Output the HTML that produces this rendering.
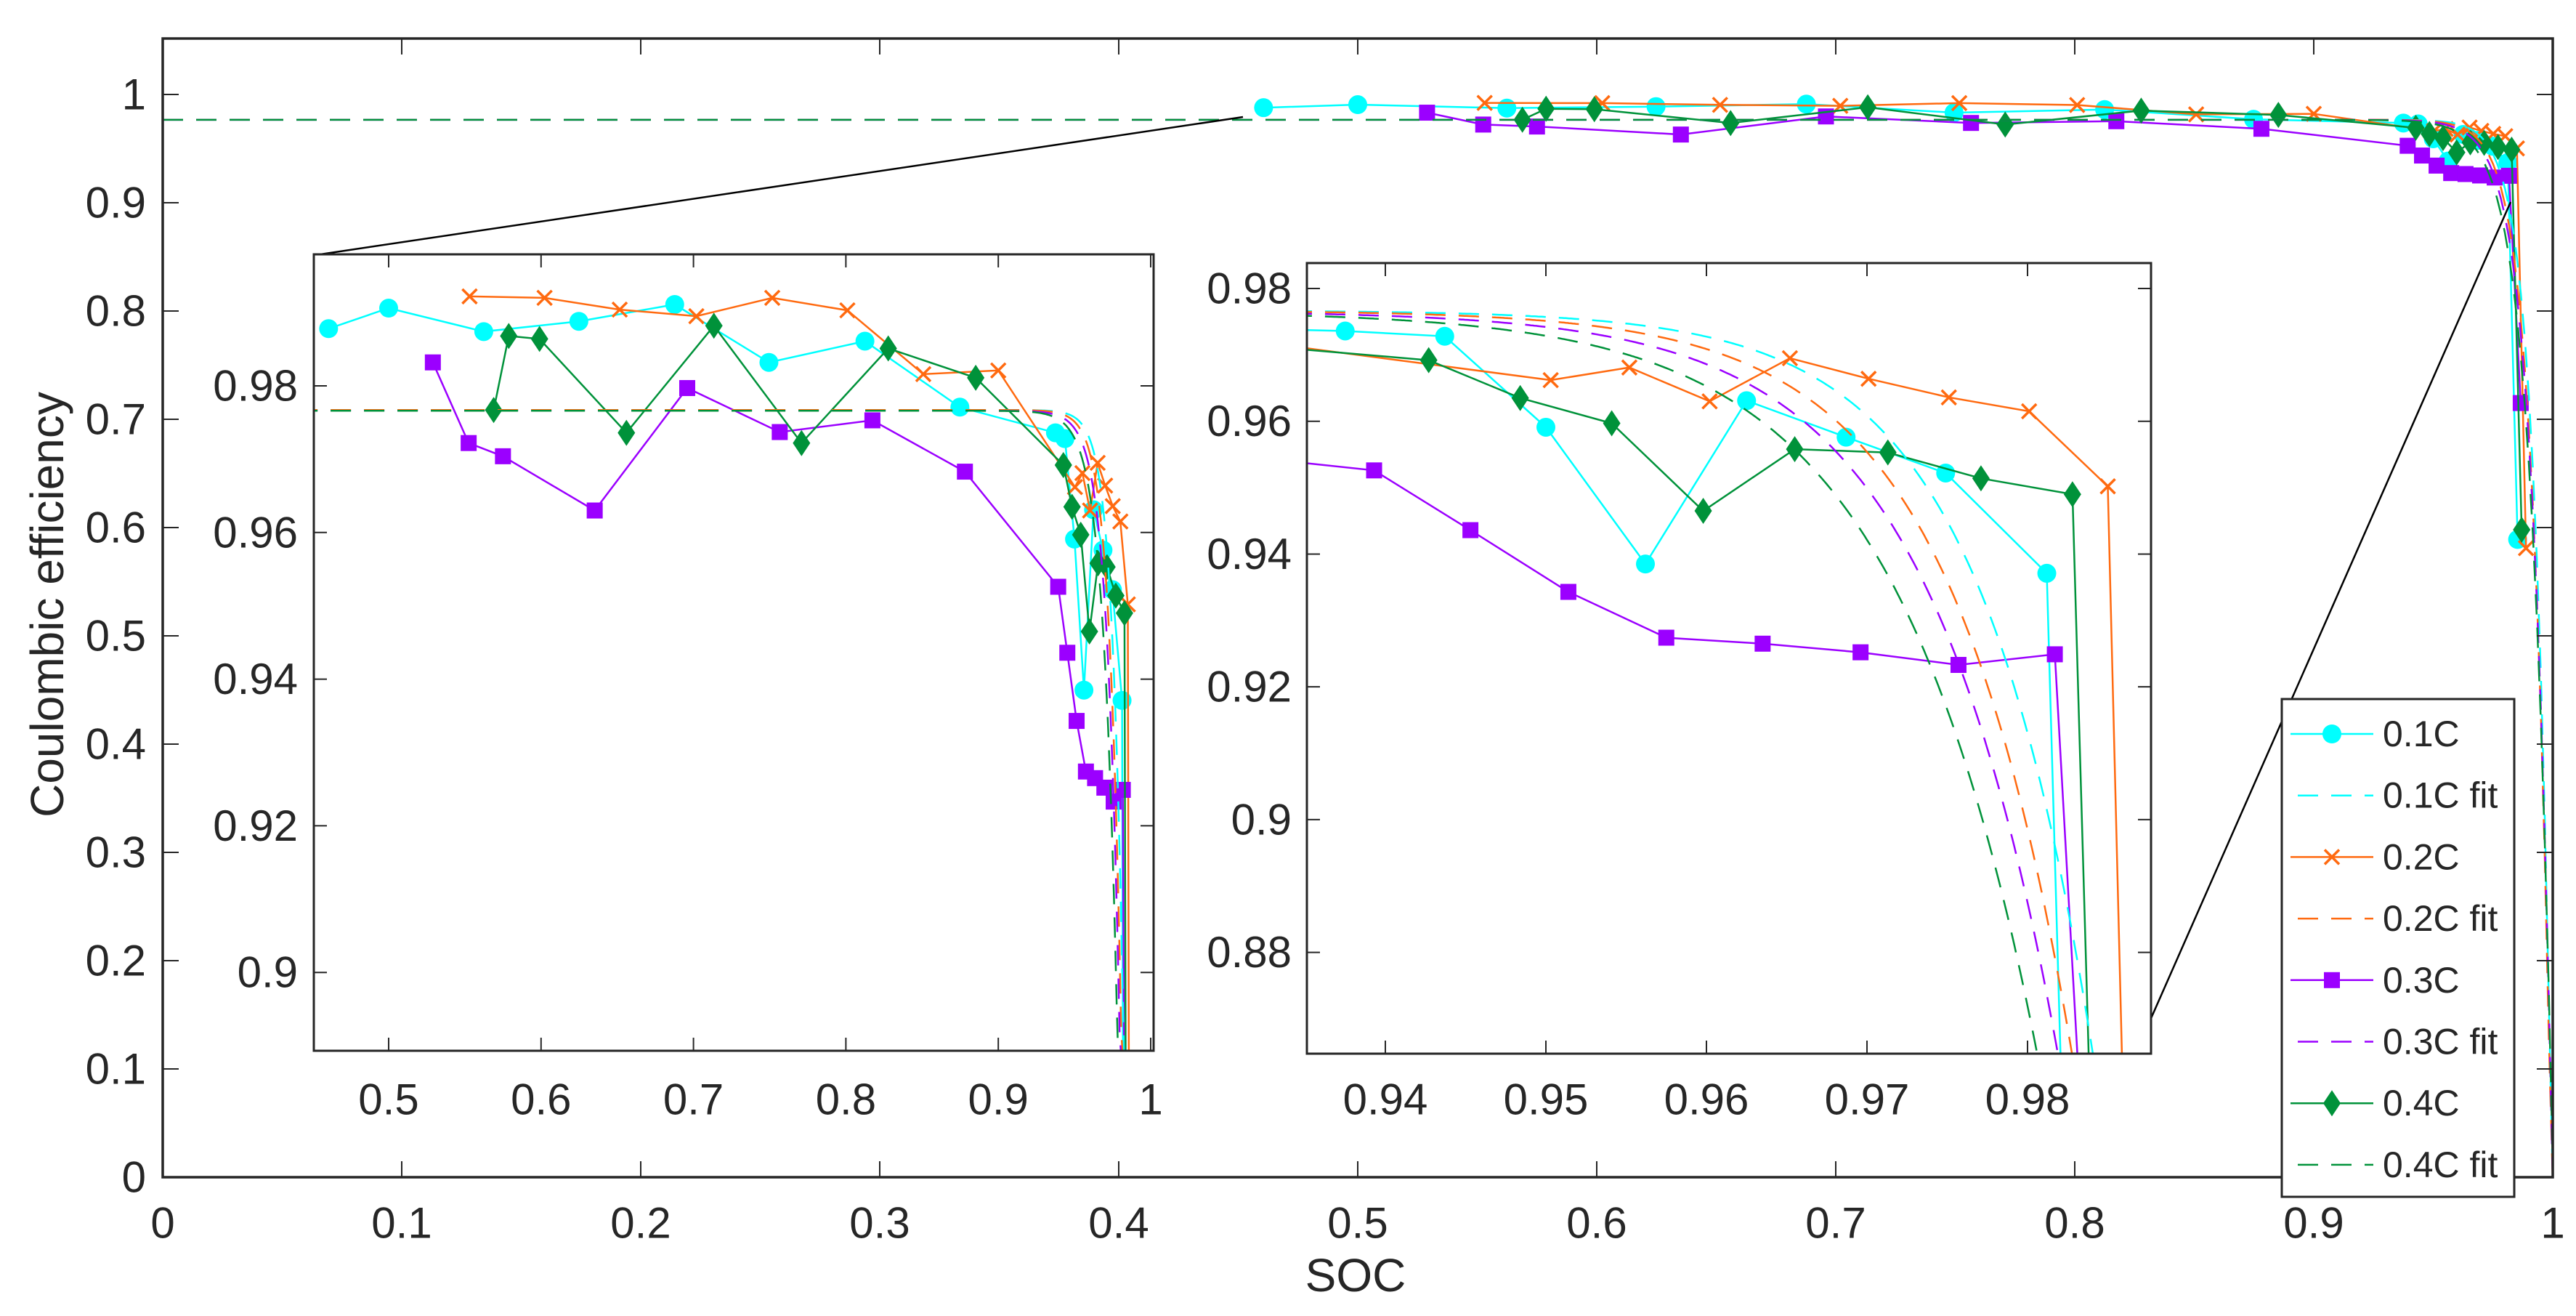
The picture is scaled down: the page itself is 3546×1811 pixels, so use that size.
<!DOCTYPE html>
<html><head><meta charset="utf-8">
<style>
html,body{margin:0;padding:0;background:#fff;overflow:hidden;width:3546px;height:1811px;}
svg{display:block;font-family:"Liberation Sans",Arial,sans-serif;}
</style></head>
<body>
<svg id="chart" xmlns="http://www.w3.org/2000/svg" width="3546" height="1811" viewBox="0 0 3546 1811">
<rect x="0" y="0" width="3546" height="1811" fill="#fff"/>
</svg>
<script>
// ---- data ----
const seriesNames = ["0.1C","0.2C","0.3C","0.4C"];
const colors = ["#00FFFF","#FF6A10","#9B00FF","#00923A"];
const socC1 = [0.4606,0.5,0.5624,0.6248,0.6877,0.7495,0.8125,0.8748,0.9375,0.9437,0.9500,0.9562,0.9625,0.9687,0.9749,0.9812,0.9853];
const ceC1  = [0.9878,0.9906,0.9874,0.9888,0.9911,0.9832,0.9861,0.9771,0.9736,0.9728,0.9591,0.9385,0.9631,0.9576,0.9522,0.9371,0.589];
const socC2 = [0.5531,0.6023,0.6516,0.7019,0.7517,0.8010,0.8508,0.9000,0.9503,0.9552,0.9602,0.9652,0.9701,0.9751,0.9801,0.9850,0.9888];
const ceC2  = [0.9922,0.9920,0.9904,0.9895,0.9920,0.9903,0.9816,0.9821,0.9662,0.9681,0.9630,0.9695,0.9664,0.9636,0.9615,0.9502,0.581];
const socC3 = [0.5290,0.5525,0.5750,0.6352,0.6959,0.7566,0.8174,0.8781,0.9393,0.9453,0.9514,0.9575,0.9635,0.9696,0.9757,0.9817,0.9866];
const ceC3  = [0.9832,0.9722,0.9704,0.9630,0.9797,0.9737,0.9753,0.9683,0.9526,0.9436,0.9343,0.9274,0.9265,0.9252,0.9233,0.9249,0.715];
const socC4 = [0.5689,0.5788,0.5990,0.6560,0.7134,0.7709,0.8278,0.8852,0.9427,0.9484,0.9541,0.9598,0.9655,0.9713,0.9771,0.9828,0.9870];
const ceC4  = [0.9767,0.9868,0.9864,0.9736,0.9882,0.9722,0.9851,0.9811,0.9692,0.9635,0.9597,0.9465,0.9558,0.9553,0.9514,0.9490,0.598];
// fit parameters: plateau, SOC where fit reaches 0.8647, decay width
const fitPlateau = [0.9767,0.9767,0.9766,0.9766];
const fitEndSoc  = [0.98407,0.98277,0.98190,0.98061];
const fitWidth   = [0.0072,0.0077,0.0083,0.0090];
const mainXTicks = ["0","0.1","0.2","0.3","0.4","0.5","0.6","0.7","0.8","0.9","1"];
const mainYTicks = ["0","0.1","0.2","0.3","0.4","0.5","0.6","0.7","0.8","0.9","1"];
const in1XTicks = ["0.5","0.6","0.7","0.8","0.9","1"];
const in1YTicks = ["0.9","0.92","0.94","0.96","0.98"];
const in2XTicks = ["0.94","0.95","0.96","0.97","0.98"];
const in2YTicks = ["0.88","0.9","0.92","0.94","0.96","0.98"];

const socs=[socC1,socC2,socC3,socC4], ces=[ceC1,ceC2,ceC3,ceC4];
const NS="http://www.w3.org/2000/svg";
const svg=document.getElementById('chart');
function el(tag,attrs,parent){const e=document.createElementNS(NS,tag);for(const k in attrs)e.setAttribute(k,attrs[k]);(parent||svg).appendChild(e);return e;}
function fitVal(i,s){return fitPlateau[i]-0.112*Math.exp((s-fitEndSoc[i])/fitWidth[i]);}

const axes=[
 {id:'main',x0:224,x1:3514,y0:53,y1:1620,xs:s=>224+3290*s,ys:c=>1620-1490*c,xt:mainXTicks,yt:mainYTicks,lw:3.5,tick:22,fs:60,xly:1683,ylx:201,sMin:0,sMax:1},
 {id:'inset1',x0:432,x1:1588,y0:350,y1:1446,xs:s=>535+(s-0.5)*2098,ys:c=>531-(c-0.98)*10090,xt:in1XTicks,yt:in1YTicks,lw:3,tick:18,fs:60,xly:1513,ylx:410,sMin:0.44,sMax:1.01},
 {id:'inset2',x0:1799,x1:2961,y0:362,y1:1450,xs:s=>1907+(s-0.94)*22100,ys:c=>397-(c-0.98)*9136,xt:in2XTicks,yt:in2YTicks,lw:3,tick:18,fs:60,xly:1513,ylx:1778,sMin:0.93,sMax:0.995}
];

function marker(i,x,y,g){
 const c=colors[i];let m;
 if(i===0){m=el('circle',{cx:x,cy:y,r:13,fill:c},g);}
 else if(i===1){m=el('path',{d:`M${x-10},${y-10}L${x+10},${y+10}M${x-10},${y+10}L${x+10},${y-10}`,stroke:c,'stroke-width':3.5,fill:'none'},g);}
 else if(i===2){m=el('rect',{x:x-11,y:y-11,width:22,height:22,fill:c},g);}
 else {m=el('path',{d:`M${x},${y-18}L${x+12},${y}L${x},${y+18}L${x-12},${y}Z`,fill:c},g);}
 return m;
}

axes.forEach(a=>{
 const g=el('g',{});
 
 
 el('rect',{x:a.x0,y:a.y0,width:a.x1-a.x0,height:a.y1-a.y0,fill:'#fff'},g);
 const cp=el('clipPath',{id:'clip-'+a.id},g);
 el('rect',{x:a.x0,y:a.y0,width:a.x1-a.x0,height:a.y1-a.y0},cp);
 const plot=el('g',{'clip-path':'url(#clip-'+a.id+')'},g);
 
 
 const lim=a.y1+20;
 for(let i=0;i<4;i++){
  const sg=el('g',{},plot);
  
  
  const P=socs[i].map((s,k)=>[a.xs(s),a.ys(ces[i][k])]);
  const out=[];
  for(let k=0;k<P.length;k++){
   if(P[k][1]<=lim){out.push(P[k]);}
   else{
    if(k>0&&P[k-1][1]<=lim){const t=(lim-P[k-1][1])/(P[k][1]-P[k-1][1]);out.push([P[k-1][0]+t*(P[k][0]-P[k-1][0]),lim]);}
    break;
   }
  }
  el('polyline',{points:out.map(p=>p[0].toFixed(1)+','+p[1].toFixed(1)).join(' '),fill:'none',stroke:colors[i],'stroke-width':2.5},sg);
  P.forEach(p=>{if(p[1]>lim)return;
   const m=marker(i,p[0],p[1],sg);
   
   });
 }
 for(let i=0;i<4;i++){
  const N=600;const p=[];
  for(let k=0;k<=N;k++){const s=a.sMin+(a.sMax-a.sMin)*k/N;let y=a.ys(fitVal(i,s));if(y>a.y1+5)y=a.y1+5;p.push(a.xs(s).toFixed(1)+','+y.toFixed(1));}
  const f=el('polyline',{points:p.join(' '),fill:'none',stroke:colors[i],'stroke-width':2.5,'stroke-dasharray':'28 18'},plot);
  
  
 }
 a.xt.forEach(t=>{const x=a.xs(parseFloat(t));
  el('line',{x1:x,x2:x,y1:a.y1,y2:a.y1-a.tick,stroke:'#262626','stroke-width':2},g);
  el('line',{x1:x,x2:x,y1:a.y0,y2:a.y0+a.tick,stroke:'#262626','stroke-width':2},g);
  const tx=el('text',{x:x,y:a.xly,'font-size':a.fs,'text-anchor':'middle','dominant-baseline':'central',fill:'#262626'},g);
  tx.textContent=t;
  
  
 });
 a.yt.forEach(t=>{const y=a.ys(parseFloat(t));
  el('line',{x1:a.x0,x2:a.x0+a.tick,y1:y,y2:y,stroke:'#262626','stroke-width':2},g);
  el('line',{x1:a.x1,x2:a.x1-a.tick,y1:y,y2:y,stroke:'#262626','stroke-width':2},g);
  const tx=el('text',{x:a.ylx,y:y,'font-size':a.fs,'text-anchor':'end','dominant-baseline':'central',fill:'#262626'},g);
  tx.textContent=t;
  
  
 });
 el('rect',{x:a.x0,y:a.y0,width:a.x1-a.x0,height:a.y1-a.y0,fill:'none',stroke:'#262626','stroke-width':a.lw},g);
 if(a.id==='main'){
  const c1=el('line',{x1:441,y1:350,x2:1711,y2:161,stroke:'#000','stroke-width':2.5},svg);
  
  
  const c2=el('line',{x1:2955,y1:1415,x2:3456,y2:278,stroke:'#000','stroke-width':2.5},svg);
  
  
 }
});

const xt=el('text',{x:1866,y:1755,'font-size':64,'text-anchor':'middle','dominant-baseline':'central',fill:'#262626'});
xt.textContent='SOC';


const yt=el('text',{x:0,y:0,'font-size':64,'text-anchor':'middle','dominant-baseline':'central',fill:'#262626',transform:'translate(65,832) rotate(-90)'});
yt.textContent='Coulombic efficiency';



const lg=el('g',{});


el('rect',{x:3141,y:962,width:320,height:685,fill:'#fff',stroke:'#262626','stroke-width':3},lg);
for(let i=0;i<4;i++){
 for(let f=0;f<2;f++){
  const y=1010+(i*2+f)*84.7;
  const eg=el('g',{},lg);
  
  
  const ln=el('line',{x1:3153,x2:3267,y1:y,y2:y,stroke:colors[i],'stroke-width':2.5},eg);
  if(f){ln.setAttribute('stroke-dasharray','28 18');ln.setAttribute('stroke-dashoffset','-10');}
  else marker(i,3210,y,eg);
  const t=el('text',{x:3280,y:y,'font-size':50,'dominant-baseline':'central',fill:'#262626'},eg);
  t.textContent=seriesNames[i]+(f?' fit':'');
 }
}
</script>
</body></html>
